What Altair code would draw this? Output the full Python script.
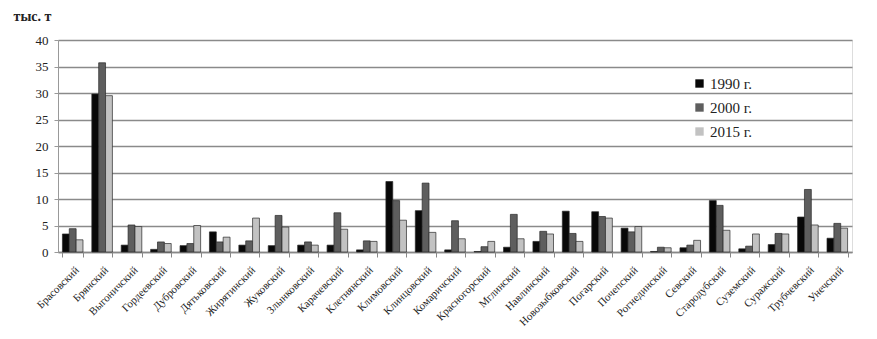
import altair as alt
import pandas as pd

districts = ["Брасовский", "Брянский", "Выгоничский", "Гордеевский", "Дубровский",
             "Дятьковский", "Жирятинский", "Жуковский", "Злынковский", "Карачевский",
             "Клетнянский", "Климовский", "Клинцовский", "Комаричский", "Красногорский",
             "Мглинский", "Навлинский", "Новозыбковский", "Погарский", "Почепский",
             "Рогнединский", "Севский", "Стародубский", "Суземский", "Суражский",
             "Трубчевский", "Унечский"]
series = ["1990 г.", "2000 г.", "2015 г."]
v1990 = [3.4, 29.8, 1.3, 0.5, 1.2, 3.8, 1.3, 1.2, 1.3, 1.3, 0.4, 13.3, 7.8, 0.4, 0.1,
         0.9, 2.0, 7.7, 7.6, 4.5, 0.1, 0.8, 9.7, 0.6, 1.4, 6.6, 2.6]
v2000 = [4.4, 35.7, 5.1, 1.9, 1.6, 1.9, 2.1, 6.9, 1.9, 7.4, 2.1, 9.7, 13.0, 5.9, 1.0,
         7.1, 3.9, 3.5, 6.7, 3.8, 0.9, 1.3, 8.8, 1.1, 3.5, 11.8, 5.4]
v2015 = [2.3, 29.5, 4.8, 1.6, 5.0, 2.8, 6.4, 4.7, 1.3, 4.3, 2.0, 6.0, 3.7, 2.5, 2.0,
         2.5, 3.4, 2.0, 6.4, 4.8, 0.8, 2.2, 4.1, 3.4, 3.4, 5.1, 4.5]
colors = ["#080808", "#5e5e5e", "#c2c2c2"]

rows = []
for i, d in enumerate(districts):
    for s, vals in zip(series, [v1990, v2000, v2015]):
        rows.append({"district": d, "year": s, "value": vals[i]})
df = pd.DataFrame(rows)

serif = "Liberation Serif"

chart = alt.Chart(df).mark_bar(stroke="#2a2a2a", strokeWidth=0.7).encode(
    x=alt.X("district:N", sort=districts,
            scale=alt.Scale(paddingInner=0.3, paddingOuter=0.15),
            axis=alt.Axis(title=None, labelAngle=-45, labelFont=serif, labelFontSize=11,
                          labelColor="#222", tickBand="extent", tickSize=5,
                          tickColor="#888", domainColor="#888", domainWidth=1.5,
                          labelPadding=7)),
    xOffset=alt.XOffset("year:N", sort=series, scale=alt.Scale(paddingInner=0)),
    y=alt.Y("value:Q", scale=alt.Scale(domain=[0, 40], nice=False),
            axis=alt.Axis(values=[0, 5, 10, 15, 20, 25, 30, 35, 40], title="тыс. т",
                          titleAngle=0, titleAlign="left", titleBaseline="top",
                          titleX=-45, titleY=-31, titleFont=serif, titleFontSize=14,
                          titleFontWeight="bold", titleColor="#222",
                          labelFont=serif, labelFontSize=13, labelColor="#222",
                          gridColor="#8a8a8a", gridWidth=1.6, domainColor="#999",
                          tickColor="#999", tickSize=4, labelPadding=6)),
    color=alt.Color("year:N", sort=series,
                    scale=alt.Scale(domain=series, range=colors),
                    legend=alt.Legend(title=None, orient="none", legendX=634, legendY=36,
                                      symbolType="square", symbolSize=70,
                                      symbolStrokeWidth=0, labelFont=serif,
                                      labelFontSize=15, labelColor="#222",
                                      rowPadding=8, labelOffset=3)),
).properties(
    width=794, height=212,
    autosize=alt.AutoSizeParams(type="none"),
    padding={"left": 50, "top": 32, "right": 17, "bottom": 78},
).configure_view(stroke=None).configure(background="white")

chart.save("out.html", embed_options={"renderer": "svg", "actions": False})
